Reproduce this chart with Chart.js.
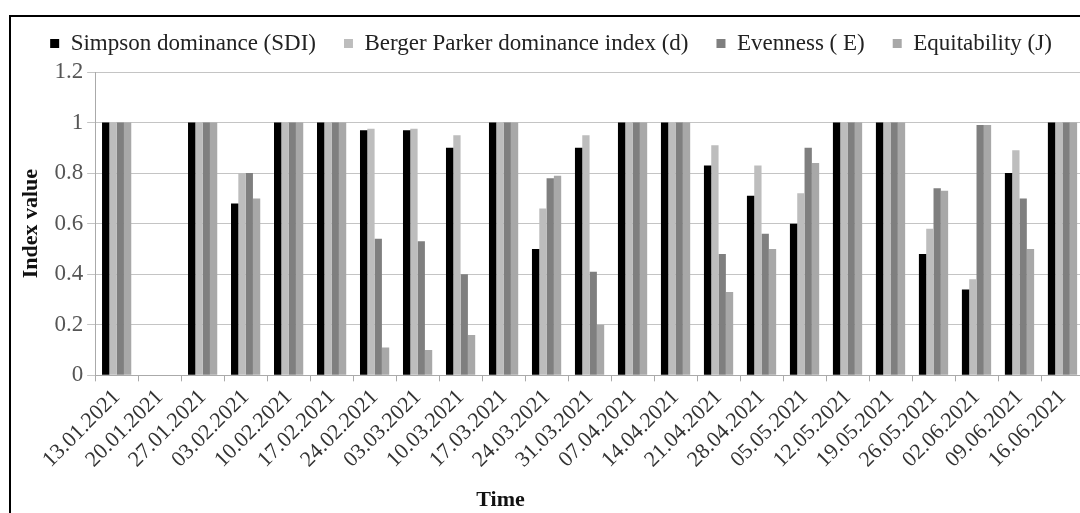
<!DOCTYPE html>
<html>
<head>
<meta charset="utf-8">
<script src="https://cdn.jsdelivr.net/npm/chart.js@4/dist/chart.umd.min.js"></script>
<style>
  html, body { margin: 0; padding: 0; background: #fff; overflow: hidden; }
  #chart { position: absolute; left: 11px; top: 0; display: block; }
  #frame {
    position: absolute; left: 9px; top: 15px;
    border-left: 2px solid #000; border-top: 2px solid #000;
    width: 1100px; height: 520px; pointer-events: none;
  }
</style>
</head>
<body>
<canvas id="chart" width="1090" height="534"></canvas>
<div id="frame"></div>
<script>
var dates = ["13.01.2021", "20.01.2021", "27.01.2021", "03.02.2021", "10.02.2021", "17.02.2021",
    "24.02.2021", "03.03.2021", "10.03.2021", "17.03.2021", "24.03.2021", "31.03.2021",
    "07.04.2021", "14.04.2021", "21.04.2021", "28.04.2021", "05.05.2021", "12.05.2021",
    "19.05.2021", "26.05.2021", "02.06.2021", "09.06.2021", "16.06.2021"];

var simpson = [1, 0, 1, 0.68, 1, 1, 0.97, 0.97, 0.9, 1, 0.5, 0.9, 1, 1, 0.83, 0.71, 0.6, 1, 1, 0.48, 0.34, 0.8, 1];
var bergerParker = [1, 0, 1, 0.8, 1, 1, 0.975, 0.975, 0.95, 1, 0.66, 0.95, 1, 1, 0.91, 0.83, 0.72, 1, 1, 0.58, 0.38, 0.89, 1];
var evenness = [1, 0, 1, 0.8, 1, 1, 0.54, 0.53, 0.4, 1, 0.78, 0.41, 1, 1, 0.48, 0.56, 0.9, 1, 1, 0.74, 0.99, 0.7, 1];
var equitability = [1, 0, 1, 0.7, 1, 1, 0.11, 0.1, 0.16, 1, 0.79, 0.2, 1, 1, 0.33, 0.5, 0.84, 1, 1, 0.73, 0.99, 0.5, 1];

var yTicks = [0, 0.2, 0.4, 0.6, 0.8, 1, 1.2];

var serif = "'Liberation Serif', 'Times New Roman', serif";

// x axis title sits left of centre in the original, so draw it by hand
var timeTitle = {
    id: 'timeTitle',
    afterDraw: function (chart) {
        var ctx = chart.ctx;
        var area = chart.chartArea;
        ctx.save();
        ctx.font = "bold 22px " + serif;
        ctx.fillStyle = '#111';
        ctx.textAlign = 'center';
        ctx.textBaseline = 'middle';
        ctx.fillText('Time', area.left + (area.right - area.left) * 0.41, chart.height - 34);
        ctx.restore();
    }
};

var ctx = document.getElementById('chart').getContext('2d');
var chart = new Chart(ctx, {
    type: 'bar',
    data: {
        labels: dates,
        datasets: [
            { label: "Simpson dominance (SDI)", data: simpson, backgroundColor: '#000000' },
            { label: "Berger Parker dominance index (d)", data: bergerParker, backgroundColor: '#bdbdbd' },
            { label: "Evenness ( E)", data: evenness, backgroundColor: '#7f7f7f' },
            { label: "Equitability (J)", data: equitability, backgroundColor: '#a8a8a8' }
        ]
    },
    options: {
        responsive: false,
        animation: false,
        layout: { padding: { top: 4, left: 7, right: 17, bottom: 58 } },
        datasets: {
            bar: { categoryPercentage: 0.68, barPercentage: 1.0 }
        },
        plugins: {
            legend: {
                position: 'top',
                labels: {
                    boxWidth: 9,
                    boxHeight: 9,
                    padding: 28,
                    color: '#222',
                    font: { family: serif, size: 23 }
                }
            },
            tooltip: { enabled: false }
        },
        scales: {
            x: {
                offset: true,
                grid: { drawOnChartArea: false, drawTicks: true, tickLength: 6, offset: true, color: '#aaa' },
                border: { color: '#aaa' },
                ticks: {
                    minRotation: 45,
                    maxRotation: 45,
                    autoSkip: false,
                    color: '#333',
                    font: { family: serif, size: 22 }
                }
            },
            // empty strip between legend and plot
            gap: {
                type: 'category',
                position: 'top',
                grid: { display: false },
                border: { display: false },
                ticks: { display: false },
                afterFit: function (scale) { scale.height = 7; }
            },
            y: {
                min: 0,
                max: 1.2,
                afterBuildTicks: function (axis) {
                    axis.ticks = yTicks.map(function (v) { return { value: v }; });
                },
                grid: { color: '#c4c4c4', tickLength: 8 },
                border: { color: '#aaa' },
                ticks: {
                    color: '#555',
                    padding: 4,
                    font: { family: serif, size: 23 },
                    callback: function (v) { return String(parseFloat(v.toFixed(1))); }
                },
                title: {
                    display: true,
                    text: 'Index value',
                    color: '#111',
                    padding: { top: 0, bottom: 6 },
                    font: { family: serif, size: 22, weight: 'bold' }
                }
            }
        }
    },
    plugins: [timeTitle]
});
</script>
</body>
</html>
